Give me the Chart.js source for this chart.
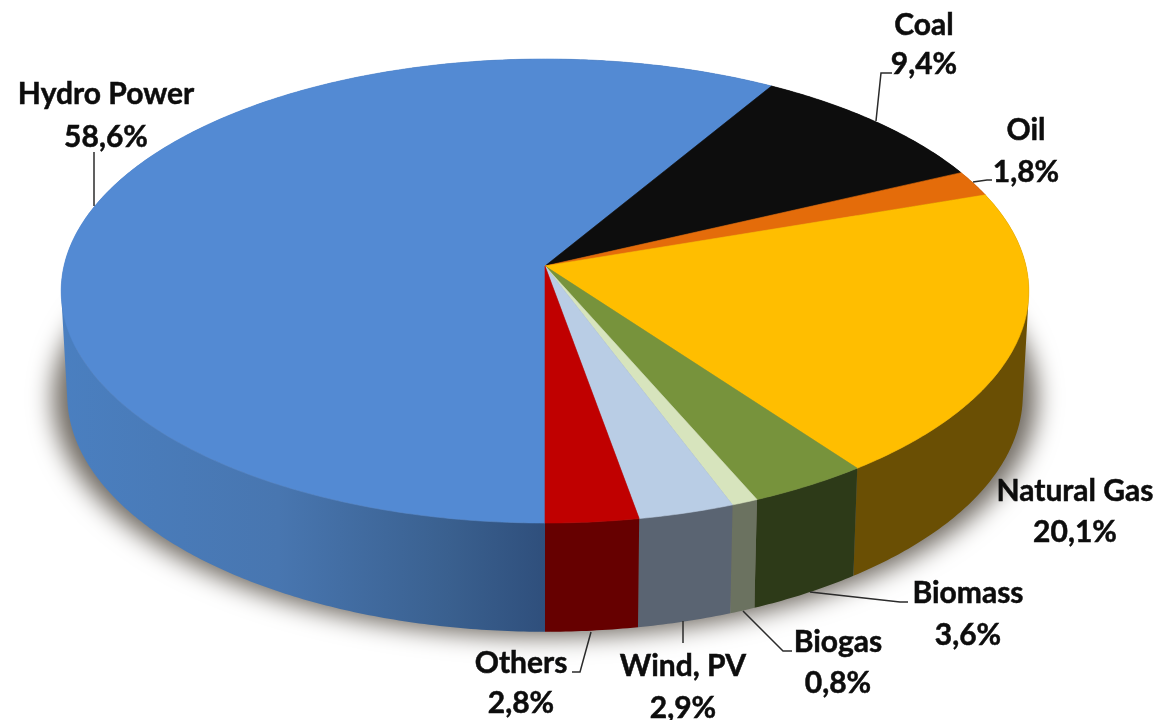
<!DOCTYPE html>
<html>
<head>
<meta charset="utf-8">
<style>
  html, body { margin: 0; padding: 0; background: #fff; }
  canvas { display: block; }
</style>
<script src="https://cdn.jsdelivr.net/npm/chart.js@4"></script>
</head>
<body>
<canvas id="pie3d" width="1162" height="720"></canvas>
<script>
const sources = ['Hydro Power', 'Coal', 'Oil', 'Natural Gas', 'Biomass', 'Biogas', 'Wind, PV', 'Others'];
const shares = [58.6, 9.4, 1.8, 20.1, 3.6, 0.8, 2.9, 2.8];
const topColors = ['#538AD3', '#0D0D0D', '#E46C0A', '#FFBE00', '#77933C', '#D7E4BD', '#B9CDE5', '#C00000'];
const wallColors = [null, '#0D0D0D', '#7A3A05', '#6A4F04', '#2D3A18', '#6B7260', '#5A6472', '#660000'];

// where each label sits: centre x, baseline of both lines
const labelPos = [
  [106, 104, 147], [924, 35, 74], [1026, 140, 182], [1075, 501, 542],
  [968, 603, 645], [838, 652, 693], [683, 676, 718], [521, 673, 713]
];
const leaders = [
  [[94, 152], [94, 206]],
  [[892, 73], [881, 73], [876, 121]],
  [[973, 182], [987, 180], [992, 180]],
  [[810, 592], [900, 602], [908, 602]],
  [[743, 611], [783, 651], [792, 651]],
  [[683, 621], [683, 643]],
  [[591, 632], [580, 672], [572, 672]]
];

// perspective of the top face and of the bottom rim
const topRim = { x: 545, y: 266, a: 481, b: 229.3, k: 0.1078 };
const lowRim = { x: 545, y: 369.5, a: 475, b: 234, k: 0.1078 };
const shadowRim = { x: 545, y: 372, a: 489, b: 236, k: 0.1078 };

function project(rim, angle) {
  const u = Math.cos(angle), v = Math.sin(angle);
  const w = 1 - rim.k * v;
  return [rim.x + rim.a * u / w, rim.y + rim.b * v / w];
}

function rimPoints(rim, from, to) {
  const steps = Math.max(4, Math.ceil((to - from) / 0.01));
  const pts = [];
  for (let i = 0; i <= steps; i++) pts.push(project(rim, from + (to - from) * i / steps));
  return pts;
}

function addPoly(ctx, pts) {
  pts.forEach((p, i) => i ? ctx.lineTo(p[0], p[1]) : ctx.moveTo(p[0], p[1]));
  ctx.closePath();
}

function tracePath(ctx, pts) {
  ctx.beginPath();
  addPoly(ctx, pts);
}

// same winding for every quad, otherwise nonzero fill cancels overlaps
function wound(pts) {
  let area = 0;
  pts.forEach((p, i) => {
    const q = pts[(i + 1) % pts.length];
    area += p[0] * q[1] - q[0] * p[1];
  });
  return area < 0 ? pts.slice().reverse() : pts;
}

const pie3d = {
  id: 'pie3d',
  beforeDatasetDraw(chart) {
    const ctx = chart.ctx;
    const arcs = chart.getDatasetMeta(0).data;
    const ratio = chart.currentDevicePixelRatio || 1;

    // soft shadow under the disc, shape itself is drawn off the canvas
    ctx.save();
    ctx.shadowColor = 'rgba(112,106,98,1)';
    ctx.shadowBlur = 24 * ratio;
    ctx.shadowOffsetX = 3000 * ratio;
    ctx.translate(-3000, 0);
    ctx.fillStyle = '#000';
    tracePath(ctx, rimPoints(shadowRim, 0, Math.PI * 2));
    ctx.fill();
    ctx.restore();

    // side walls: step quads in one path, keeps the silhouette closed
    arcs.forEach((arc, i) => {
      const upper = rimPoints(topRim, arc.startAngle, arc.endAngle);
      const lower = rimPoints(lowRim, arc.startAngle, arc.endAngle);
      let fill = wallColors[i];
      if (i === 0) {
        fill = ctx.createLinearGradient(60, 0, 545, 0);
        fill.addColorStop(0, '#4A7FC0');
        fill.addColorStop(0.45, '#4876B0');
        fill.addColorStop(0.8, '#3A608F');
        fill.addColorStop(1, '#2F4F7C');
      }
      ctx.fillStyle = fill;
      ctx.beginPath();
      for (let s = 0; s < upper.length - 1; s++) {
        addPoly(ctx, wound([upper[s], upper[s + 1], lower[s + 1], lower[s]]));
      }
      ctx.fill();
    });

    // top face
    arcs.forEach((arc, i) => {
      const pts = [[topRim.x, topRim.y]].concat(rimPoints(topRim, arc.startAngle, arc.endAngle));
      ctx.fillStyle = topColors[i];
      ctx.strokeStyle = topColors[i];
      ctx.lineWidth = 0.6;
      tracePath(ctx, pts);
      ctx.fill();
      ctx.stroke();
    });
    return false;
  },
  afterDraw(chart) {
    const ctx = chart.ctx;
    ctx.save();
    ctx.strokeStyle = '#2b2b2b';
    ctx.lineWidth = 1.5;
    leaders.forEach(line => {
      ctx.beginPath();
      line.forEach((p, i) => i ? ctx.lineTo(p[0], p[1]) : ctx.moveTo(p[0], p[1]));
      ctx.stroke();
    });
    ctx.fillStyle = '#0d0d0d';
    ctx.strokeStyle = '#0d0d0d';
    ctx.lineWidth = 0.5;
    ctx.font = 'bold 30px Lato';
    ctx.textAlign = 'center';
    sources.forEach((name, i) => {
      const pos = labelPos[i];
      const pct = shares[i].toFixed(1).replace('.', ',') + '%';
      ctx.fillText(name, pos[0], pos[1]);
      ctx.strokeText(name, pos[0], pos[1]);
      ctx.fillText(pct, pos[0], pos[2]);
      ctx.strokeText(pct, pos[0], pos[2]);
    });
    ctx.restore();
  }
};

new Chart(document.getElementById('pie3d'), {
  type: 'pie',
  data: {
    labels: sources,
    datasets: [{ data: shares, backgroundColor: topColors, borderWidth: 0 }]
  },
  options: {
    responsive: false,
    animation: false,
    rotation: 180,
    plugins: { legend: { display: false }, tooltip: { enabled: false } }
  },
  plugins: [pie3d]
});
</script>
</body>
</html>
